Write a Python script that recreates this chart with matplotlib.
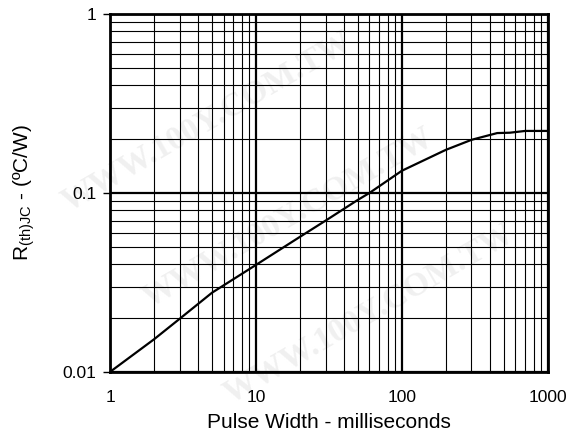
import matplotlib
matplotlib.use("Agg")
import matplotlib.pyplot as plt
from matplotlib.ticker import LogLocator, NullFormatter, FixedLocator, FixedFormatter

plt.rcParams['font.family'] = ['Liberation Sans', 'DejaVu Sans']
plt.rcParams['mathtext.fontset'] = 'custom'
plt.rcParams['mathtext.rm'] = 'Liberation Sans'

pulse_ms = [1, 2, 3, 5, 10, 20, 30, 50, 60, 100, 200, 300, 450, 550, 700, 1000]
rth = [0.01, 0.0152, 0.0198, 0.0277, 0.0396, 0.0568, 0.0700, 0.0915, 0.100,
       0.133, 0.174, 0.198, 0.216, 0.217, 0.222, 0.222]
xticks = [1, 10, 100, 1000]
xlabels = ['1', '10', '100', '1000']
yticks = [0.01, 0.1, 1]
ylabels = ['0.01', '0.1', '1']

fig = plt.figure(figsize=(5.76, 4.36), dpi=100)

# faint watermark behind the chart
wm = 'WWW.100Y.COM.TW'
for (x, y) in [(0.36, 0.72), (0.50, 0.50), (0.64, 0.28)]:
    fig.text(x, y, wm, rotation=30, ha='center', va='center', fontsize=24,
             family='Liberation Serif', weight='bold', color='#f0f0f0', zorder=-5)

ax = fig.add_axes([0.191, 0.147, 0.760, 0.821])
ax.set_zorder(1)
ax.patch.set_alpha(0)
ax.set_xscale('log')
ax.set_yscale('log')
ax.set_xlim(1, 1000)
ax.set_ylim(0.01, 1)

ax.plot(pulse_ms, rth, color='black', lw=1.6, zorder=5)

ax.xaxis.set_major_locator(FixedLocator(xticks))
ax.xaxis.set_major_formatter(FixedFormatter(xlabels))
ax.yaxis.set_major_locator(FixedLocator(yticks))
ax.yaxis.set_major_formatter(FixedFormatter(ylabels))
ax.xaxis.set_minor_locator(LogLocator(base=10, subs=range(2, 10)))
ax.yaxis.set_minor_locator(LogLocator(base=10, subs=range(2, 10)))
ax.xaxis.set_minor_formatter(NullFormatter())
ax.yaxis.set_minor_formatter(NullFormatter())

ax.grid(which='major', color='black', lw=1.6)
ax.grid(which='minor', color='black', lw=0.8)

ax.tick_params(axis='x', which='both', length=0, pad=13, labelsize=12.5)
ax.tick_params(axis='y', which='major', length=5, width=1, pad=5, labelsize=12.5)
ax.tick_params(axis='y', which='minor', length=0)

for s in ax.spines.values():
    s.set_linewidth(2)

ax.set_xlabel('Pulse Width - milliseconds', fontsize=15, labelpad=6)
ax.set_ylabel(r'R$_{\mathrm{(th)JC}}$ - (ºC/W)', fontsize=15, labelpad=18)

fig.savefig('out.png', dpi=100)
